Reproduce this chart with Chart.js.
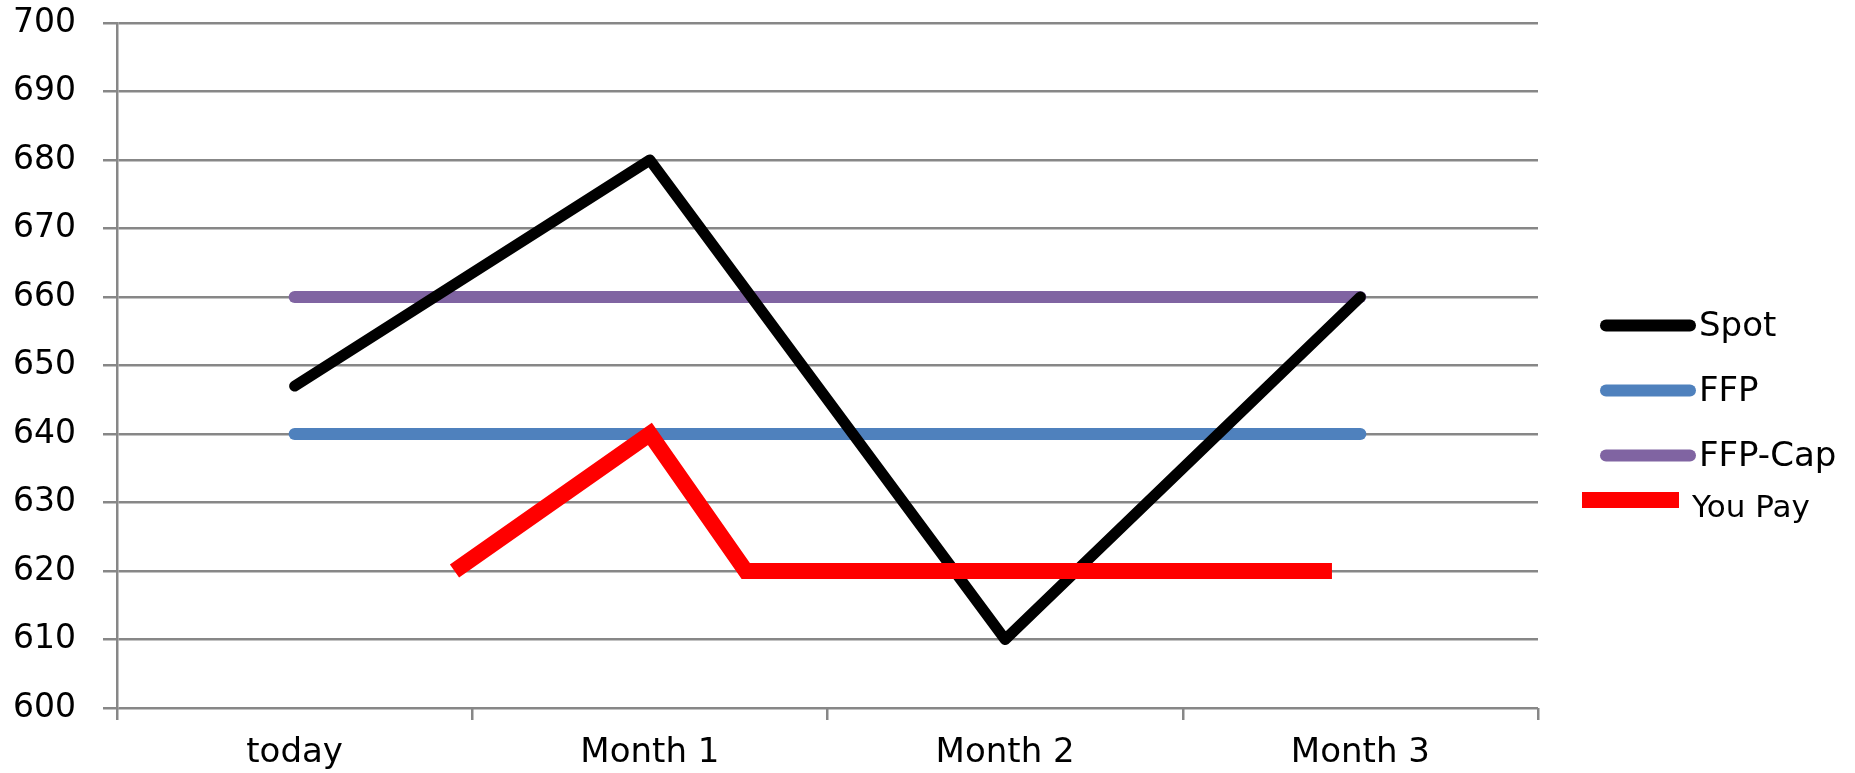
<!DOCTYPE html>
<html>
<head>
<meta charset="utf-8">
<script src="https://cdn.jsdelivr.net/npm/chart.js@4/dist/chart.umd.min.js"></script>
<style>
  html, body { margin: 0; padding: 0; background: #ffffff; }
  #wrap { width: 1855px; height: 773px; position: relative; }
</style>
</head>
<body>
<div id="wrap"><canvas id="c"></canvas></div>
<script>
// ---- data ----
const categories = ['today', 'Month 1', 'Month 2', 'Month 3'];
const spotValues = [647, 680, 610, 660];
const ffpValues = [640, 640, 640, 640];
const capValues = [660, 660, 660, 660];
const youPayPositions = [0.45, 1, 1.27, 2.92];
const youPayValues = [620, 640, 620, 620];
const yMin = 600;
const yMax = 700;
const yStep = 10;
const seriesNames = ['Spot', 'FFP', 'FFP-Cap', 'You Pay'];

const toPoints = (vals) => vals.map((v, i) => ({ x: i, y: v }));
const youPayPoints = youPayPositions.map((p, i) => ({ x: p, y: youPayValues[i] }));

const GRID = '#878787';
const FONT = 'DejaVu Sans';

const legendPlugin = {
  id: 'customLegend',
  afterDraw(chart) {
    const ctx = chart.ctx;
    const ds = chart.data.datasets;
    ctx.save();
    ctx.fillStyle = '#000';
    ctx.textAlign = 'left';
    ctx.textBaseline = 'alphabetic';
    const lineItems = [
      { i: 0, y: 325.5, base: 336 },
      { i: 1, y: 390.5, base: 401 },
      { i: 2, y: 455.5, base: 466 }
    ];
    lineItems.forEach(it => {
      ctx.strokeStyle = ds[it.i].borderColor;
      ctx.lineWidth = 12;
      ctx.lineCap = 'round';
      ctx.beginPath();
      ctx.moveTo(1606, it.y);
      ctx.lineTo(1690, it.y);
      ctx.stroke();
      ctx.fillStyle = '#000';
      ctx.font = '34px "' + FONT + '"';
      ctx.fillText(ds[it.i].label, 1699, it.base);
    });
    // You Pay
    ctx.fillStyle = ds[3].borderColor;
    ctx.fillRect(1582, 492, 97, 16);
    ctx.fillStyle = '#000';
    ctx.font = '31px "' + FONT + '"';
    ctx.fillText(ds[3].label, 1692, 517);
    ctx.restore();
  }
};

new Chart(document.getElementById('c'), {
  type: 'line',
  data: {
    datasets: [
      {
        label: seriesNames[0], data: toPoints(spotValues), xAxisID: 'xl', yAxisID: 'y',
        borderColor: '#000000', borderWidth: 11, borderCapStyle: 'round', borderJoinStyle: 'round',
        pointRadius: 0, fill: false, tension: 0, order: 1
      },
      {
        label: seriesNames[1], data: toPoints(ffpValues), xAxisID: 'xl', yAxisID: 'y',
        borderColor: '#4F81BD', borderWidth: 12, borderCapStyle: 'round', borderJoinStyle: 'round',
        pointRadius: 0, fill: false, tension: 0, order: 3
      },
      {
        label: seriesNames[2], data: toPoints(capValues), xAxisID: 'xl', yAxisID: 'y',
        borderColor: '#8064A2', borderWidth: 12, borderCapStyle: 'round', borderJoinStyle: 'round',
        pointRadius: 0, fill: false, tension: 0, order: 2
      },
      {
        label: seriesNames[3], data: youPayPoints, xAxisID: 'xl', yAxisID: 'y',
        borderColor: '#FF0000', borderWidth: 16, borderCapStyle: 'butt', borderJoinStyle: 'miter',
        pointRadius: 0, fill: false, tension: 0, order: 0
      }
    ]
  },
  options: {
    responsive: true,
    maintainAspectRatio: false,
    animation: false,
    events: [],
    layout: { padding: { top: 0, right: 317, left: 0, bottom: 0 } },
    plugins: {
      legend: { display: false },
      tooltip: { enabled: false },
      title: { display: false }
    },
    scales: {
      x: {
        type: 'category',
        labels: categories,
        position: 'bottom',
        offset: true,
        grid: { offset: true, drawOnChartArea: false, drawTicks: true, tickLength: 12, color: GRID, lineWidth: 2.5 },
        border: { display: false },
        ticks: { color: '#000', font: { family: FONT, size: 34 }, padding: 13, maxRotation: 0, autoSkip: false },
        afterFit(s) { s.height = 65; }
      },
      xl: {
        type: 'linear',
        display: false,
        min: -0.5,
        max: 3.5
      },
      y: {
        type: 'linear',
        min: yMin,
        max: yMax,
        position: 'left',
        ticks: { stepSize: yStep, color: '#000', font: { family: FONT, size: 33 }, padding: 27 },
        grid: { color: GRID, lineWidth: 2.5, tickLength: 14, drawTicks: true },
        border: { display: true, color: GRID, width: 2.5 },
        afterFit(s) { s.width = 117; s.paddingTop = 23; s.paddingBottom = 0; }
      }
    }
  },
  plugins: [legendPlugin]
});
</script>
</body>
</html>
